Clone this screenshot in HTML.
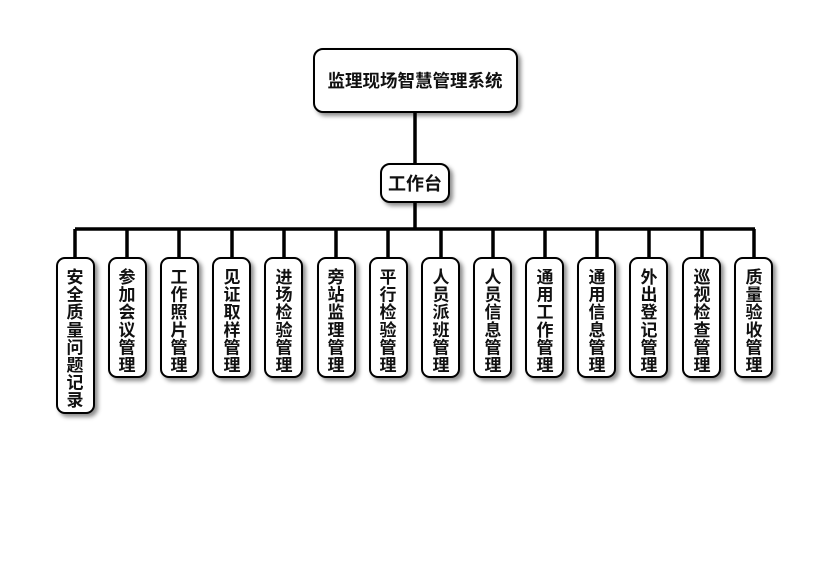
<!DOCTYPE html>
<html><head><meta charset="utf-8"><style>
html,body{margin:0;padding:0;background:#fff;}
svg text{font-family:"Liberation Sans","Noto Sans CJK SC",sans-serif;font-weight:bold;fill:#111;}
</style></head><body>
<svg width="830" height="560" viewBox="0 0 830 560" xmlns="http://www.w3.org/2000/svg">
<defs><filter id="s" x="-30%" y="-30%" width="160%" height="160%"><feDropShadow dx="3" dy="3" stdDeviation="2" flood-color="#000" flood-opacity="0.45"/></filter></defs>
<g stroke="#000" stroke-width="3.5" fill="none">
<line x1="415" y1="112" x2="415" y2="164"/>
<line x1="415" y1="203" x2="415" y2="229"/>
<line x1="75" y1="229" x2="755" y2="229"/>
<line x1="75" y1="229" x2="75" y2="258"/>
<line x1="127" y1="229" x2="127" y2="258"/>
<line x1="179" y1="229" x2="179" y2="258"/>
<line x1="232" y1="229" x2="232" y2="258"/>
<line x1="284" y1="229" x2="284" y2="258"/>
<line x1="336" y1="229" x2="336" y2="258"/>
<line x1="388" y1="229" x2="388" y2="258"/>
<line x1="441" y1="229" x2="441" y2="258"/>
<line x1="493" y1="229" x2="493" y2="258"/>
<line x1="545" y1="229" x2="545" y2="258"/>
<line x1="597" y1="229" x2="597" y2="258"/>
<line x1="649" y1="229" x2="649" y2="258"/>
<line x1="702" y1="229" x2="702" y2="258"/>
<line x1="754" y1="229" x2="754" y2="258"/>
</g>
<g fill="#fff" stroke="#000" stroke-width="2" filter="url(#s)">
<rect x="314" y="49" width="203" height="63" rx="9"/>
<rect x="381" y="164" width="68" height="38" rx="9"/>
<rect x="57" y="258" width="37" height="155" rx="8"/>
<rect x="109" y="258" width="37" height="119" rx="8"/>
<rect x="161" y="258" width="37" height="119" rx="8"/>
<rect x="213" y="258" width="37" height="119" rx="8"/>
<rect x="265" y="258" width="37" height="119" rx="8"/>
<rect x="318" y="258" width="37" height="119" rx="8"/>
<rect x="370" y="258" width="37" height="119" rx="8"/>
<rect x="422" y="258" width="37" height="119" rx="8"/>
<rect x="474" y="258" width="37" height="119" rx="8"/>
<rect x="526" y="258" width="37" height="119" rx="8"/>
<rect x="578" y="258" width="37" height="119" rx="8"/>
<rect x="630" y="258" width="37" height="119" rx="8"/>
<rect x="683" y="258" width="37" height="119" rx="8"/>
<rect x="735" y="258" width="37" height="119" rx="8"/>
</g>
<text x="415" y="87" font-size="17.5" text-anchor="middle">监理现场智慧管理系统</text>
<text x="415" y="190" font-size="18" text-anchor="middle">工作台</text>
<g font-size="17" text-anchor="middle">
<text x="75" y="283"><tspan x="75">安</tspan><tspan x="75" dy="17.6">全</tspan><tspan x="75" dy="17.6">质</tspan><tspan x="75" dy="17.6">量</tspan><tspan x="75" dy="17.6">问</tspan><tspan x="75" dy="17.6">题</tspan><tspan x="75" dy="17.6">记</tspan><tspan x="75" dy="17.6">录</tspan></text>
<text x="127" y="283"><tspan x="127">参</tspan><tspan x="127" dy="17.6">加</tspan><tspan x="127" dy="17.6">会</tspan><tspan x="127" dy="17.6">议</tspan><tspan x="127" dy="17.6">管</tspan><tspan x="127" dy="17.6">理</tspan></text>
<text x="179" y="283"><tspan x="179">工</tspan><tspan x="179" dy="17.6">作</tspan><tspan x="179" dy="17.6">照</tspan><tspan x="179" dy="17.6">片</tspan><tspan x="179" dy="17.6">管</tspan><tspan x="179" dy="17.6">理</tspan></text>
<text x="232" y="283"><tspan x="232">见</tspan><tspan x="232" dy="17.6">证</tspan><tspan x="232" dy="17.6">取</tspan><tspan x="232" dy="17.6">样</tspan><tspan x="232" dy="17.6">管</tspan><tspan x="232" dy="17.6">理</tspan></text>
<text x="284" y="283"><tspan x="284">进</tspan><tspan x="284" dy="17.6">场</tspan><tspan x="284" dy="17.6">检</tspan><tspan x="284" dy="17.6">验</tspan><tspan x="284" dy="17.6">管</tspan><tspan x="284" dy="17.6">理</tspan></text>
<text x="336" y="283"><tspan x="336">旁</tspan><tspan x="336" dy="17.6">站</tspan><tspan x="336" dy="17.6">监</tspan><tspan x="336" dy="17.6">理</tspan><tspan x="336" dy="17.6">管</tspan><tspan x="336" dy="17.6">理</tspan></text>
<text x="388" y="283"><tspan x="388">平</tspan><tspan x="388" dy="17.6">行</tspan><tspan x="388" dy="17.6">检</tspan><tspan x="388" dy="17.6">验</tspan><tspan x="388" dy="17.6">管</tspan><tspan x="388" dy="17.6">理</tspan></text>
<text x="441" y="283"><tspan x="441">人</tspan><tspan x="441" dy="17.6">员</tspan><tspan x="441" dy="17.6">派</tspan><tspan x="441" dy="17.6">班</tspan><tspan x="441" dy="17.6">管</tspan><tspan x="441" dy="17.6">理</tspan></text>
<text x="493" y="283"><tspan x="493">人</tspan><tspan x="493" dy="17.6">员</tspan><tspan x="493" dy="17.6">信</tspan><tspan x="493" dy="17.6">息</tspan><tspan x="493" dy="17.6">管</tspan><tspan x="493" dy="17.6">理</tspan></text>
<text x="545" y="283"><tspan x="545">通</tspan><tspan x="545" dy="17.6">用</tspan><tspan x="545" dy="17.6">工</tspan><tspan x="545" dy="17.6">作</tspan><tspan x="545" dy="17.6">管</tspan><tspan x="545" dy="17.6">理</tspan></text>
<text x="597" y="283"><tspan x="597">通</tspan><tspan x="597" dy="17.6">用</tspan><tspan x="597" dy="17.6">信</tspan><tspan x="597" dy="17.6">息</tspan><tspan x="597" dy="17.6">管</tspan><tspan x="597" dy="17.6">理</tspan></text>
<text x="649" y="283"><tspan x="649">外</tspan><tspan x="649" dy="17.6">出</tspan><tspan x="649" dy="17.6">登</tspan><tspan x="649" dy="17.6">记</tspan><tspan x="649" dy="17.6">管</tspan><tspan x="649" dy="17.6">理</tspan></text>
<text x="702" y="283"><tspan x="702">巡</tspan><tspan x="702" dy="17.6">视</tspan><tspan x="702" dy="17.6">检</tspan><tspan x="702" dy="17.6">查</tspan><tspan x="702" dy="17.6">管</tspan><tspan x="702" dy="17.6">理</tspan></text>
<text x="754" y="283"><tspan x="754">质</tspan><tspan x="754" dy="17.6">量</tspan><tspan x="754" dy="17.6">验</tspan><tspan x="754" dy="17.6">收</tspan><tspan x="754" dy="17.6">管</tspan><tspan x="754" dy="17.6">理</tspan></text>
</g>
</svg>
</body></html>
